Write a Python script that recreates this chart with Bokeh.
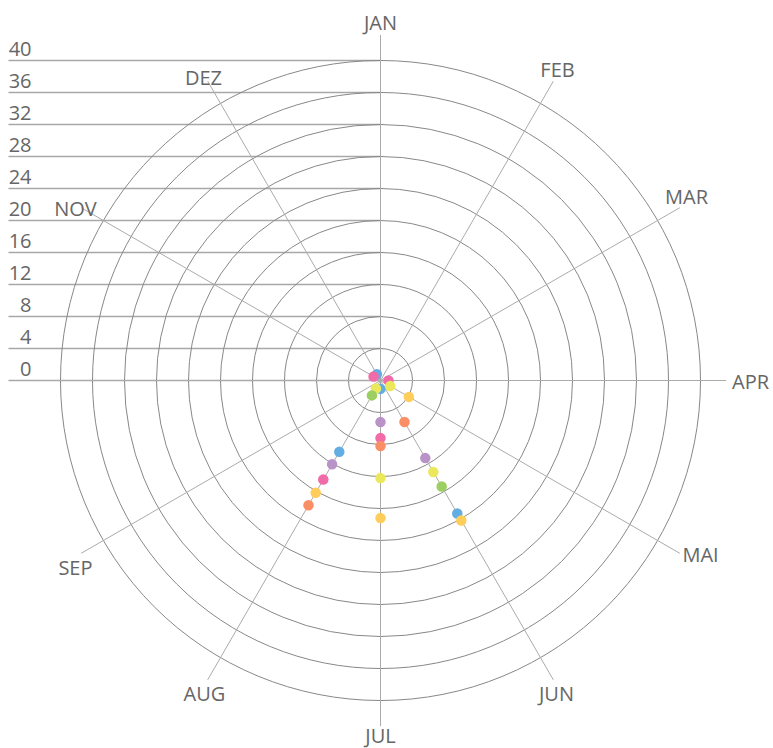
import math
from bokeh.plotting import figure
from bokeh.models import Range1d
from bokeh.embed import file_html
from bokeh.resources import INLINE
from bokeh.core.properties import value

# ---- data ----
months = ["JAN", "FEB", "MAR", "APR", "MAI", "JUN", "JUL", "AUG", "SEP", "OKT", "NOV", "DEZ"]
shown_month_labels = ["JAN", "FEB", "MAR", "APR", "MAI", "JUN", "JUL", "AUG", "SEP", "", "NOV", "DEZ"]
ring_values = [4, 8, 12, 16, 20, 24, 28, 32, 36, 40]
tick_values = [0, 4, 8, 12, 16, 20, 24, 28, 32, 36, 40]
tick_labels = ["0", "4", "8", "12", "16", "20", "24", "28", "32", "36", "40"]

N = None
blue   = [N, N, N, N, N, 19.2, 1.05, 10.3, N, N, N, 0.9]
pink   = [N, N, N, 1.0, N, N, 7.2, 14.3, N, N, 1.0, N]
purple = [N, N, N, N, N, 11.2, 5.2, 12.1, N, N, N, N]
orange = [N, N, N, N, N, 6.0, 8.2, 18.0, N, N, N, N]
yellow = [N, N, N, N, 1.4, 13.2, 12.2, 1.15, N, N, N, N]
gold   = [N, N, N, N, 4.1, 20.2, 17.2, 16.2, N, N, N, N]
green  = [N, N, N, N, N, 15.3, N, 2.15, N, N, N, N]

series = [
    (blue, "#62aee3"),
    (pink, "#f06ba8"),
    (purple, "#b993c8"),
    (orange, "#fa8f66"),
    (yellow, "#ebe85c"),
    (gold, "#ffcd5a"),
    (green, "#9bcf62"),
]

# ---- layout ----
W, H = 773, 748
CX, CY = 380, 380       # centre in canvas pixels
S = 8.0                 # pixels per value unit
SPOKE_R = 43.2
LABEL_R = 358 / S
# small pixel nudges of the month labels (layout only)
label_dx = [0, -2, -4, 12, 10, -3, 0, 3, 5, 0, 5, 2]
label_dy = [0, -1, -5, 1, -5, 3, -3, 3, 8, 0, 7, 7]

p = figure(width=W, height=H,
           x_range=Range1d(-CX / S, (W - CX) / S),
           y_range=Range1d(-(H - CY) / S, CY / S),
           output_backend="svg", toolbar_location=None, min_border=0)
p.axis.visible = False
p.grid.visible = False
p.outline_line_color = None
p.background_fill_color = "white"

angles = [math.radians(30 * i) for i in range(len(months))]

# horizontal value lines from the left edge to the centre
x_left = (8 - CX) / S
p.segment(x0=[x_left] * len(tick_values), y0=tick_values,
          x1=[0] * len(tick_values), y1=tick_values,
          line_color="#a8a8a8", line_width=1.5)

# rings
p.circle(x=[0] * len(ring_values), y=[0] * len(ring_values), radius=ring_values,
         fill_color=None, line_color="#888888", line_width=1)

# spokes
p.segment(x0=[0] * len(angles), y0=[0] * len(angles),
          x1=[SPOKE_R * math.sin(a) for a in angles],
          y1=[SPOKE_R * math.cos(a) for a in angles],
          line_color="#ababab", line_width=1)

# tick labels
p.text(x=[(31 - CX) / S] * len(tick_values), y=tick_values, text=tick_labels,
       text_align="right", text_baseline="middle", y_offset=-12,
       text_font=value("Open Sans"), text_font_size="20px", text_color="#666666")

# month labels
p.text(x=[LABEL_R * math.sin(a) for a in angles],
       y=[LABEL_R * math.cos(a) for a in angles],
       text=shown_month_labels, x_offset=label_dx, y_offset=label_dy,
       text_align="center", text_baseline="middle",
       text_font=value("Open Sans"), text_font_size="20px", text_color="#666666")

# data points
for vals, col in series:
    xs, ys = [], []
    for v, a in zip(vals, angles):
        if v is None:
            continue
        xs.append(v * math.sin(a))
        ys.append(v * math.cos(a))
    p.scatter(x=xs, y=ys, size=10.5, fill_color=col, line_color=None)

open("out.html", "w").write(file_html(p, INLINE))
